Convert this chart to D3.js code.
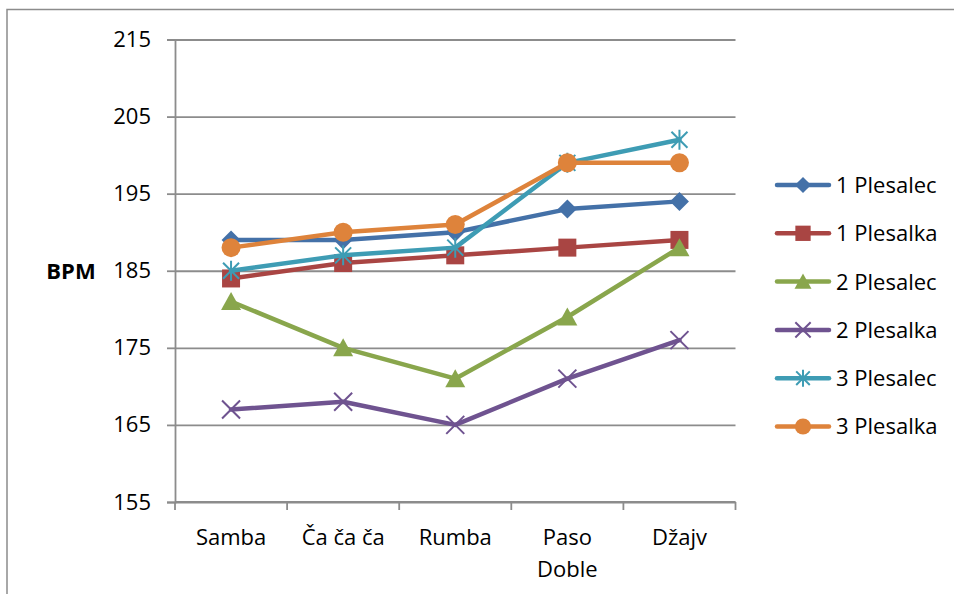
<!DOCTYPE html>
<html>
<head>
<meta charset="utf-8">
<script src="https://cdn.jsdelivr.net/npm/d3@7"></script>
<style>
  html, body { margin: 0; padding: 0; background: #fff; }
  svg { display: block; }
  text { font-family: "Open Sans", "Liberation Sans", sans-serif; fill: #000; }
</style>
</head>
<body>
<svg id="chart" width="954" height="594"></svg>
<script>
// Dances (x categories); labels may wrap to two lines
const categories = ["Samba", "Ča ča ča", "Rumba", "Paso Doble", "Džajv"];
const categoryLines = [["Samba"], ["Ča ča ča"], ["Rumba"], ["Paso", "Doble"], ["Džajv"]];

// Series names and average BPM per dance
const seriesNames = ["1 Plesalec", "1 Plesalka", "2 Plesalec", "2 Plesalka", "3 Plesalec", "3 Plesalka"];
const plesalec1 = [189, 189, 190, 193, 194];
const plesalka1 = [184, 186, 187, 188, 189];
const plesalec2 = [181, 175, 171, 179, 188];
const plesalka2 = [167, 168, 165, 171, 176];
const plesalec3 = [185, 187, 188, 199, 202];
const plesalka3 = [188, 190, 191, 199, 199];
const seriesValues = [plesalec1, plesalka1, plesalec2, plesalka2, plesalec3, plesalka3];

// Y axis ticks
const yTicks = [155, 165, 175, 185, 195, 205, 215];
const yLabel = "BPM";

// Styling per series
const colors = ["#4471a8", "#a94543", "#89a64c", "#6f5390", "#3e9cb4", "#de833b"];
const markers = ["diamond", "square", "triangle", "cross", "star", "circle"];

const svg = d3.select("#chart");
const grid = "#8c8c8c";
const fontSize = "22px";

// Outer chart frame
svg.append("rect")
  .attr("x", 7).attr("y", 9.5)
  .attr("width", 1100).attr("height", 800)
  .attr("fill", "none").attr("stroke", "#8c8c8c").attr("stroke-width", 1.5);

const plot = { left: 175, right: 735.5, top: 39.5, bottom: 502 };

const x = d3.scaleBand().domain(categories).range([plot.left, plot.right]).padding(0);
const y = d3.scaleLinear().domain([155, 215]).range([plot.bottom, plot.top]);
const cx = c => x(c) + x.bandwidth() / 2;

// Horizontal gridlines with outside tick marks
const yAxis = d3.axisLeft(y).tickValues(yTicks).tickSize(8).tickPadding(16).tickFormat(d3.format("d"));
const gy = svg.append("g").attr("transform", `translate(${plot.left},0)`).call(yAxis);
gy.select(".domain").attr("stroke", grid).attr("stroke-width", 1.8);
gy.selectAll(".tick line").attr("stroke", grid).attr("stroke-width", 1.8);
gy.selectAll(".tick text").style("font-size", fontSize).style("font-family", "'Open Sans', sans-serif").attr("fill", "#000");
gy.selectAll(".tick").append("line")
  .attr("x1", 0).attr("x2", plot.right - plot.left)
  .attr("stroke", grid).attr("stroke-width", 1.8);

// Category axis: ticks on band boundaries
const bounds = categories.map(c => x(c)).concat([plot.right]);
svg.append("line")
  .attr("x1", plot.left).attr("x2", plot.right)
  .attr("y1", plot.bottom).attr("y2", plot.bottom)
  .attr("stroke", grid).attr("stroke-width", 1.8);
svg.selectAll(".xtick").data(bounds).enter().append("line")
  .attr("x1", d => d).attr("x2", d => d)
  .attr("y1", plot.bottom).attr("y2", plot.bottom + 8)
  .attr("stroke", grid).attr("stroke-width", 1.8);

const xl = svg.selectAll(".xlabel").data(categories).enter().append("text")
  .attr("x", d => cx(d)).attr("y", 545)
  .attr("text-anchor", "middle")
  .style("font-size", fontSize);
xl.each(function(d, i) {
  const t = d3.select(this);
  categoryLines[i].forEach((line, j) => {
    t.append("tspan").attr("x", cx(d)).attr("dy", j === 0 ? 0 : 32).text(line);
  });
});

// Y axis title
svg.append("text")
  .attr("x", 71).attr("y", 271).attr("dy", "0.35em")
  .attr("text-anchor", "middle")
  .style("font-size", "22px").style("font-weight", "bold")
  .text(yLabel);

// Marker shapes
function markerPath(type, s) {
  switch (type) {
    case "diamond": return `M0,${-9.5*s}L${9.5*s},0L0,${9.5*s}L${-9.5*s},0Z`;
    case "square": return `M${-9*s},${-9*s}H${9*s}V${9*s}H${-9*s}Z`;
    case "triangle": return `M0,${-9.5*s}L${10*s},${8.5*s}L${-10*s},${8.5*s}Z`;
    case "cross": return `M${-9*s},${-9*s}L${9*s},${9*s}M${9*s},${-9*s}L${-9*s},${9*s}`;
    case "star": return `M${-8*s},${-8*s}L${8*s},${8*s}M${8*s},${-8*s}L${-8*s},${8*s}M0,${-10*s}V${10*s}`;
    default: return null;
  }
}
function drawMarker(g, type, color, px, py, s) {
  if (type === "circle") {
    g.append("circle").attr("cx", px).attr("cy", py).attr("r", 9.5 * s).attr("fill", color);
  } else if (type === "cross" || type === "star") {
    g.append("path").attr("d", markerPath(type, s)).attr("transform", `translate(${px},${py})`)
      .attr("fill", "none").attr("stroke", color).attr("stroke-width", 2);
  } else {
    g.append("path").attr("d", markerPath(type, s)).attr("transform", `translate(${px},${py})`)
      .attr("fill", color);
  }
}

// Series lines and markers
const line = d3.line().x((d, i) => cx(categories[i])).y(d => y(d));
seriesValues.forEach((vals, k) => {
  const g = svg.append("g");
  g.append("path").datum(vals).attr("d", line)
    .attr("fill", "none").attr("stroke", colors[k]).attr("stroke-width", 4.5)
    .attr("stroke-linejoin", "round").attr("stroke-linecap", "round");
  vals.forEach((v, i) => drawMarker(g, markers[k], colors[k], cx(categories[i]), y(v), 1));
});

// Legend
seriesNames.forEach((name, k) => {
  const ly = 185 + k * 48.3;
  const g = svg.append("g");
  g.append("line").attr("x1", 777).attr("x2", 829).attr("y1", ly).attr("y2", ly)
    .attr("stroke", colors[k]).attr("stroke-width", 4.5).attr("stroke-linecap", "round");
  drawMarker(g, markers[k], colors[k], 803, ly, 0.85);
  g.append("text").attr("x", 836).attr("y", ly).attr("dy", "0.36em")
    .style("font-size", fontSize).text(name);
});
</script>
</body>
</html>
